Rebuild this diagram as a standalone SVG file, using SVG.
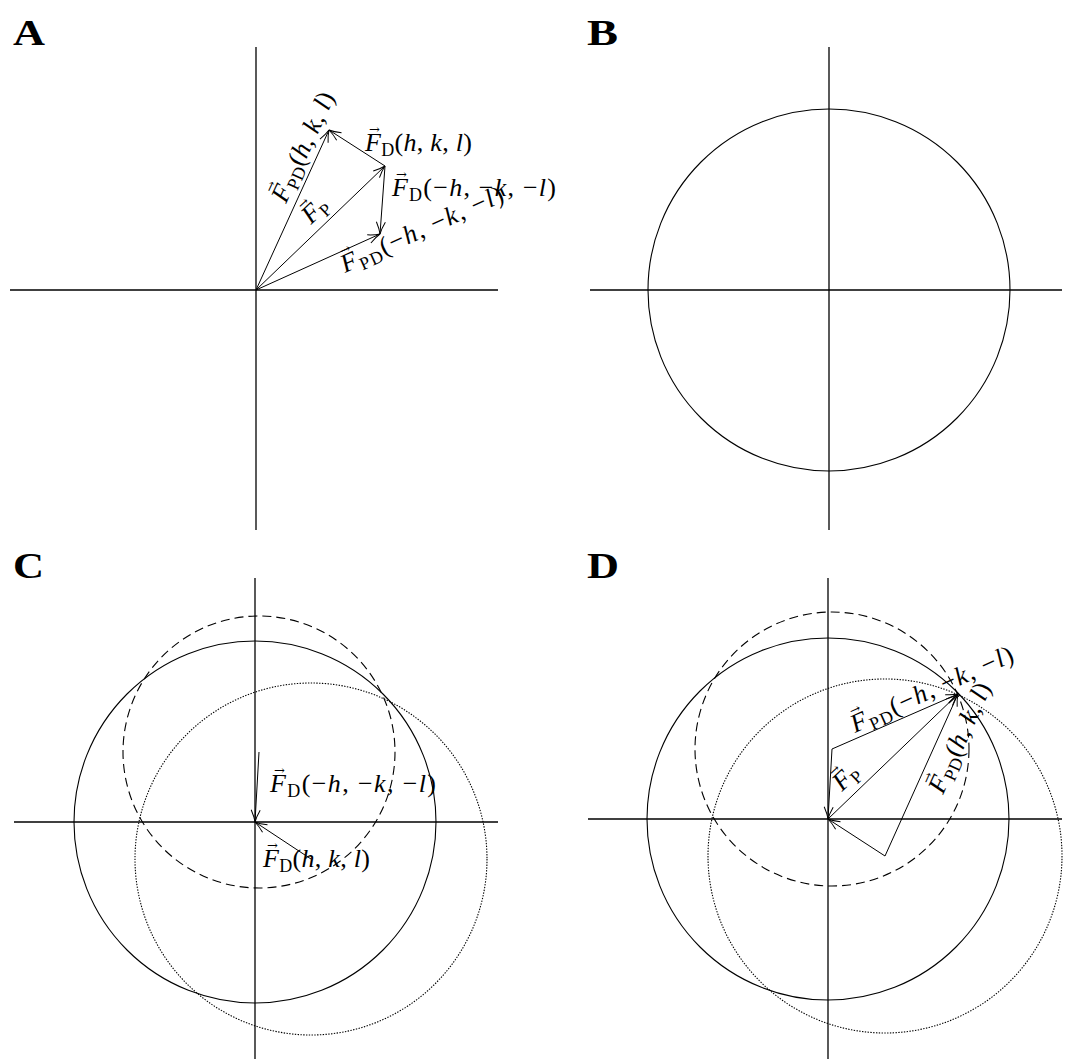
<svg xmlns="http://www.w3.org/2000/svg" width="1065" height="1059" viewBox="0 0 1065 1059">
<style>
.ax{stroke:#000;stroke-width:1.3;fill:none}
.solid{stroke:#000;stroke-width:1.1;fill:none}
.dash{stroke:#000;stroke-width:1.1;fill:none;stroke-dasharray:9 5}
.dot{stroke:#000;stroke-width:1.1;fill:none;stroke-dasharray:1.4 1.4}
.vec{stroke:#000;stroke-width:1;fill:none;marker-end:url(#ah)}
.lab{font-family:"Liberation Serif","DejaVu Serif",serif;font-size:26px;fill:#000}
.it{font-style:italic}
.sub{font-size:18px}
.acc{font-family:"DejaVu Serif","Liberation Serif",serif;font-size:13px;fill:#000}
.pan{font-family:"Liberation Serif",serif;font-weight:bold;font-size:36px;fill:#000}
</style>
<defs>
<marker id="ah" markerUnits="userSpaceOnUse" markerWidth="16" markerHeight="12" viewBox="-13 -6 16 12" refX="0" refY="0" orient="auto" overflow="visible">
<path d="M-12,-4.5 Q-5,-1 0,0 Q-5,1 -12,4.5" fill="none" stroke="#000" stroke-width="1"/>
</marker>
</defs>
<rect width="1065" height="1059" fill="#fff"/>

<g id="panelA">
<text class="pan" x="13" y="45" textLength="32" lengthAdjust="spacingAndGlyphs">A</text>
<line class="ax" x1="10" y1="290" x2="498" y2="290"/>
<line class="ax" x1="256" y1="47" x2="256" y2="530"/>
<g id="connectorsA">
<line class="vec" x1="256" y1="290" x2="385" y2="166"/>
<line class="vec" x1="256" y1="290" x2="329" y2="130"/>
<line class="vec" x1="385" y1="166" x2="329" y2="130"/>
<line class="vec" x1="385" y1="166" x2="380" y2="234"/>
<line class="vec" x1="256" y1="290" x2="380" y2="234"/>
</g>
<g id="labelsA" class="lab">
<g transform="translate(365,151)"><text textLength="107"><tspan class="it">F</tspan><tspan class="sub" dy="5">D</tspan><tspan dy="-5">(</tspan><tspan class="it">h</tspan>, <tspan class="it">k</tspan>, <tspan class="it">l</tspan>)</text><text class="acc" x="4" y="-17">→</text></g>
<g transform="translate(392,196)"><text textLength="164"><tspan class="it">F</tspan><tspan class="sub" dy="5">D</tspan><tspan dy="-5">(−</tspan><tspan class="it">h</tspan>, −<tspan class="it">k</tspan>, −<tspan class="it">l</tspan>)</text><text class="acc" x="4" y="-17">→</text></g>
<g transform="translate(286,204) rotate(-65.5)"><text textLength="118"><tspan class="it">F</tspan><tspan class="sub" dy="5">PD</tspan><tspan dy="-5">(</tspan><tspan class="it">h</tspan>, <tspan class="it">k</tspan>, <tspan class="it">l</tspan>)</text><text class="acc" x="4" y="-17">→</text></g>
<g transform="translate(311,225) rotate(-43.6)"><text><tspan class="it">F</tspan><tspan class="sub" dy="5">P</tspan></text><text class="acc" x="4" y="-17">→</text></g>
<g transform="translate(345,273) rotate(-24.3)"><text textLength="176"><tspan class="it">F</tspan><tspan class="sub" dy="5">PD</tspan><tspan dy="-5">(−</tspan><tspan class="it">h</tspan>, −<tspan class="it">k</tspan>, −<tspan class="it">l</tspan>)</text><text class="acc" x="4" y="-17">→</text></g>
</g>
</g>

<g id="panelB">
<text class="pan" x="587" y="45" textLength="31" lengthAdjust="spacingAndGlyphs">B</text>
<line class="ax" x1="590" y1="290" x2="1062" y2="290"/>
<line class="ax" x1="829" y1="47" x2="829" y2="530"/>
<circle class="solid" cx="829" cy="290" r="181"/>
</g>

<g id="panelC">
<text class="pan" x="13" y="578" textLength="31" lengthAdjust="spacingAndGlyphs">C</text>
<line class="ax" x1="14" y1="822" x2="498" y2="822"/>
<line class="ax" x1="255" y1="578" x2="255" y2="1059"/>
<circle class="solid" cx="255" cy="822" r="181"/>
<circle class="dash" cx="259" cy="752" r="136"/>
<circle class="dot" cx="311" cy="859" r="176"/>
<g id="connectorsC">
<line class="vec" x1="259" y1="752" x2="255" y2="822"/>
<line class="vec" x1="311" y1="859" x2="255" y2="822"/>
</g>
<g id="labelsC" class="lab">
<g transform="translate(270,792)"><text textLength="166"><tspan class="it">F</tspan><tspan class="sub" dy="5">D</tspan><tspan dy="-5">(−</tspan><tspan class="it">h</tspan>, −<tspan class="it">k</tspan>, −<tspan class="it">l</tspan>)</text><text class="acc" x="4" y="-17">→</text></g>
<g transform="translate(263,867)"><text textLength="107"><tspan class="it">F</tspan><tspan class="sub" dy="5">D</tspan><tspan dy="-5">(</tspan><tspan class="it">h</tspan>, <tspan class="it">k</tspan>, <tspan class="it">l</tspan>)</text><text class="acc" x="4" y="-17">→</text></g>
</g>
</g>

<g id="panelD">
<text class="pan" x="587" y="578" textLength="32" lengthAdjust="spacingAndGlyphs">D</text>
<line class="ax" x1="588" y1="819" x2="1062" y2="819"/>
<line class="ax" x1="828" y1="578" x2="828" y2="1059"/>
<circle class="solid" cx="828" cy="819" r="181"/>
<circle class="dash" cx="832" cy="749" r="137"/>
<circle class="dot" cx="885" cy="856" r="177"/>
<g id="connectorsD">
<line class="vec" x1="828" y1="819" x2="958" y2="694"/>
<line class="vec" x1="832" y1="749" x2="828" y2="819"/>
<line class="vec" x1="885" y1="856" x2="828" y2="819"/>
<line class="vec" x1="832" y1="749" x2="958" y2="694"/>
<line class="vec" x1="885" y1="856" x2="958" y2="694"/>
</g>
<g id="labelsD" class="lab">
<g transform="translate(842,792) rotate(-43.6)"><text><tspan class="it">F</tspan><tspan class="sub" dy="5">P</tspan></text><text class="acc" x="4" y="-17">→</text></g>
<g transform="translate(855,733) rotate(-24.3)"><text textLength="176"><tspan class="it">F</tspan><tspan class="sub" dy="5">PD</tspan><tspan dy="-5">(−</tspan><tspan class="it">h</tspan>, −<tspan class="it">k</tspan>, −<tspan class="it">l</tspan>)</text><text class="acc" x="4" y="-17">→</text></g>
<g transform="translate(943,795) rotate(-65.8)"><text textLength="118"><tspan class="it">F</tspan><tspan class="sub" dy="5">PD</tspan><tspan dy="-5">(</tspan><tspan class="it">h</tspan>, <tspan class="it">k</tspan>, <tspan class="it">l</tspan>)</text><text class="acc" x="4" y="-17">→</text></g>
</g>
</g>
</svg>
